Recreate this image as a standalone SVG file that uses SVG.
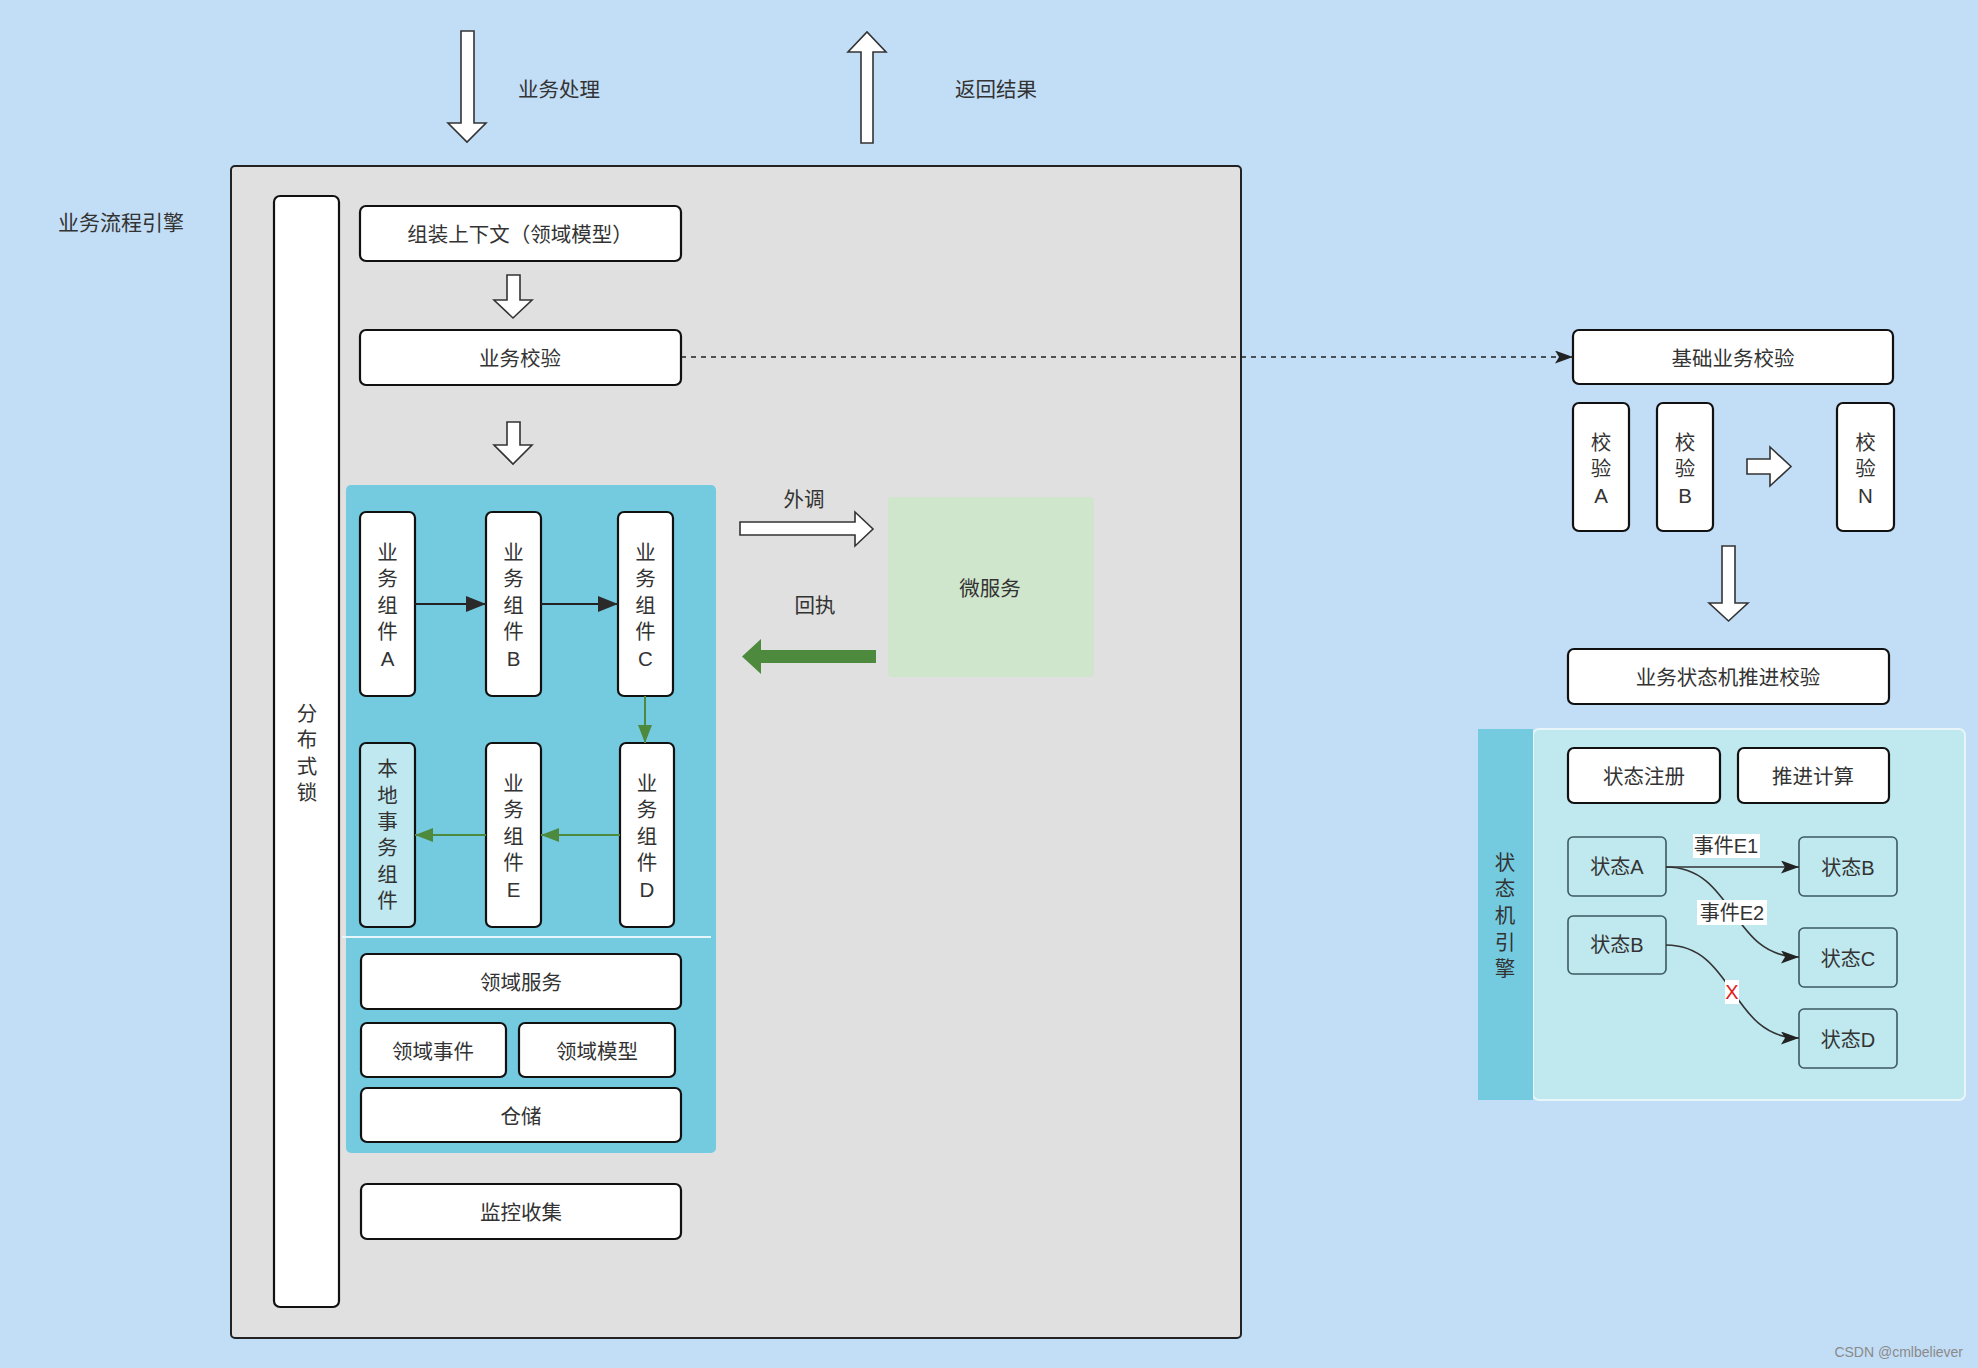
<svg xmlns="http://www.w3.org/2000/svg" width="1978" height="1368" viewBox="0 0 1978 1368">
<defs>
<style>
.t{font-family:"Liberation Sans","Noto Sans CJK SC",sans-serif;font-size:20.5px;fill:#333;text-anchor:middle;dominant-baseline:central}
.ts{font-family:"Liberation Sans","Noto Sans CJK SC",sans-serif;font-size:20px;fill:#333;text-anchor:middle;dominant-baseline:central}
.box{fill:#fff;stroke:#111;stroke-width:2.2}
.st{fill:none;stroke:#3d5a60;stroke-width:1.6}
.hol{fill:#fff;stroke:#333;stroke-width:1.6;stroke-linejoin:miter}
.blk{fill:none;stroke:#222;stroke-width:2}
.grn{fill:none;stroke:#4e8a3e;stroke-width:2}
</style>
<marker id="ab" viewBox="0 0 20 16" refX="20" refY="8" markerWidth="20" markerHeight="16" markerUnits="userSpaceOnUse" orient="auto"><path d="M0,0 L20,8 L0,16 Z" fill="#2a2a2a"/></marker>
<marker id="ag" viewBox="0 0 18 14" refX="18" refY="7" markerWidth="18" markerHeight="14" markerUnits="userSpaceOnUse" orient="auto"><path d="M0,0 L18,7 L0,14 Z" fill="#4e8a3e"/></marker>
<marker id="as" viewBox="0 0 18 13" refX="18" refY="6.5" markerWidth="18" markerHeight="13" markerUnits="userSpaceOnUse" orient="auto"><path d="M0,0 L18,6.5 L0,13 L4,6.5 Z" fill="#222"/></marker>
</defs>
<rect x="0" y="0" width="1978" height="1368" fill="#c2ddf6"/>

<!-- top arrows -->
<g id="in-arrow">
<path class="hol" d="M461,31 L474,31 L474,123 L486,123 L467,142 L448,123 L461,123 Z"/>
<text class="t" x="559" y="89">业务处理</text>
</g>
<g id="out-arrow">
<path class="hol" d="M861,143 L873,143 L873,52 L886,52 L867,32 L848,52 L861,52 Z"/>
<text class="t" x="996" y="89">返回结果</text>
</g>

<!-- engine container -->
<g id="engine">
<rect x="231" y="166" width="1010" height="1172" rx="4" fill="#e0e0e0" stroke="#222" stroke-width="2"/>
<text class="t" x="121" y="222" style="font-size:21px">业务流程引擎</text>
</g>

<g id="lock">
<rect class="box" x="274" y="196" width="65" height="1111" rx="6"/>
<text class="t" x="307" y="713">分</text>
<text class="t" x="307" y="739">布</text>
<text class="t" x="307" y="766">式</text>
<text class="t" x="307" y="792">锁</text>
</g>

<g id="assemble">
<rect class="box" x="360" y="206" width="321" height="55" rx="6"/>
<text class="t" x="520" y="234">组装上下文（领域模型）</text>
</g>
<g id="arrow-1"><path class="hol" d="M507,275 L520,275 L520,300 L532,300 L513,318 L494,300 L507,300 Z"/></g>

<g id="biz-check">
<rect class="box" x="360" y="330" width="321" height="55" rx="6"/>
<text class="t" x="520" y="358">业务校验</text>
</g>
<g id="arrow-2"><path class="hol" d="M507,422 L520,422 L520,445 L532,445 L513,464 L494,445 L507,445 Z"/></g>

<g id="domain-panel">
<rect x="346" y="485" width="370" height="668" rx="5" fill="#74cbe0"/>
<line x1="342" y1="937" x2="711" y2="937" stroke="#e6f6fa" stroke-width="2"/>
</g>

<g id="comp-a">
<rect class="box" x="360" y="512" width="55" height="184" rx="6"/>
<text class="t" x="387.5" y="552">业</text><text class="t" x="387.5" y="578">务</text><text class="t" x="387.5" y="605">组</text><text class="t" x="387.5" y="631">件</text><text class="t" x="387.5" y="658">A</text>
</g>
<g id="comp-b">
<rect class="box" x="486" y="512" width="55" height="184" rx="6"/>
<text class="t" x="513.5" y="552">业</text><text class="t" x="513.5" y="578">务</text><text class="t" x="513.5" y="605">组</text><text class="t" x="513.5" y="631">件</text><text class="t" x="513.5" y="658">B</text>
</g>
<g id="comp-c">
<rect class="box" x="618" y="512" width="55" height="184" rx="6"/>
<text class="t" x="645.5" y="552">业</text><text class="t" x="645.5" y="578">务</text><text class="t" x="645.5" y="605">组</text><text class="t" x="645.5" y="631">件</text><text class="t" x="645.5" y="658">C</text>
</g>
<g id="comp-local">
<rect x="360" y="743" width="55" height="184" rx="6" fill="#c0e8f0" stroke="#111" stroke-width="2.2"/>
<text class="t" x="387.5" y="768">本</text><text class="t" x="387.5" y="795">地</text><text class="t" x="387.5" y="821">事</text><text class="t" x="387.5" y="847">务</text><text class="t" x="387.5" y="874">组</text><text class="t" x="387.5" y="900">件</text>
</g>
<g id="comp-e">
<rect class="box" x="486" y="743" width="55" height="184" rx="6"/>
<text class="t" x="513.5" y="783">业</text><text class="t" x="513.5" y="809">务</text><text class="t" x="513.5" y="836">组</text><text class="t" x="513.5" y="862">件</text><text class="t" x="513.5" y="889">E</text>
</g>
<g id="comp-d">
<rect class="box" x="620" y="743" width="54" height="184" rx="6"/>
<text class="t" x="647" y="783">业</text><text class="t" x="647" y="809">务</text><text class="t" x="647" y="836">组</text><text class="t" x="647" y="862">件</text><text class="t" x="647" y="889">D</text>
</g>

<g id="domain-service">
<rect class="box" x="361" y="954" width="320" height="55" rx="6"/>
<text class="t" x="521" y="982">领域服务</text>
</g>
<g id="domain-event">
<rect class="box" x="361" y="1023" width="145" height="54" rx="6"/>
<text class="t" x="433" y="1051">领域事件</text>
</g>
<g id="domain-model">
<rect class="box" x="519" y="1023" width="156" height="54" rx="6"/>
<text class="t" x="597" y="1051">领域模型</text>
</g>
<g id="repository">
<rect class="box" x="361" y="1088" width="320" height="54" rx="6"/>
<text class="t" x="521" y="1116">仓储</text>
</g>
<g id="monitor">
<rect class="box" x="361" y="1184" width="320" height="55" rx="6"/>
<text class="t" x="521" y="1212">监控收集</text>
</g>

<g id="microservice">
<rect x="888" y="497" width="206" height="180" rx="4" fill="#cfe5cc"/>
<text class="t" x="990" y="588">微服务</text>
</g>

<g id="call-out">
<path class="hol" d="M740,522 L855,522 L855,512 L873,529 L855,546 L855,535 L740,535 Z"/>
<text class="t" x="804" y="499">外调</text>
</g>
<g id="reply">
<path d="M876,650 L761,650 L761,639 L742,656.5 L761,674 L761,663 L876,663 Z" fill="#4e8a3e"/>
<text class="t" x="815" y="605">回执</text>
</g>

<!-- right side -->
<g id="base-check">
<rect class="box" x="1573" y="330" width="320" height="54" rx="6"/>
<text class="t" x="1733" y="358">基础业务校验</text>
</g>
<g id="check-a">
<rect class="box" x="1573" y="403" width="56" height="128" rx="6"/>
<text class="t" x="1601" y="442">校</text><text class="t" x="1601" y="468">验</text><text class="t" x="1601" y="495">A</text>
</g>
<g id="check-b">
<rect class="box" x="1657" y="403" width="56" height="128" rx="6"/>
<text class="t" x="1685" y="442">校</text><text class="t" x="1685" y="468">验</text><text class="t" x="1685" y="495">B</text>
</g>
<g id="check-n">
<rect class="box" x="1837" y="403" width="57" height="128" rx="6"/>
<text class="t" x="1865.5" y="442">校</text><text class="t" x="1865.5" y="468">验</text><text class="t" x="1865.5" y="495">N</text>
</g>
<g id="arrow-checks"><path class="hol" d="M1747,459 L1770,459 L1770,447 L1791,466.5 L1770,486 L1770,474 L1747,474 Z"/></g>
<g id="arrow-3"><path class="hol" d="M1722,546 L1735,546 L1735,603 L1748,603 L1728.5,621 L1709,603 L1722,603 Z"/></g>

<g id="sm-check">
<rect class="box" x="1568" y="649" width="321" height="55" rx="6"/>
<text class="t" x="1728" y="677">业务状态机推进校验</text>
</g>

<g id="sm-engine">
<rect x="1533" y="729" width="432" height="371" rx="6" fill="#bfe8ef" stroke="#e8f6f9" stroke-width="2"/>
<rect x="1478" y="729" width="55" height="371" fill="#74cbe0"/>
<text class="t" x="1505" y="862">状</text><text class="t" x="1505" y="888">态</text><text class="t" x="1505" y="915">机</text><text class="t" x="1505" y="942">引</text><text class="t" x="1505" y="968">擎</text>
</g>
<g id="sm-register">
<rect class="box" x="1568" y="748" width="152" height="55" rx="6"/>
<text class="t" x="1644" y="776">状态注册</text>
</g>
<g id="sm-compute">
<rect class="box" x="1738" y="748" width="151" height="55" rx="6"/>
<text class="t" x="1813" y="776">推进计算</text>
</g>
<g id="state-a"><rect class="st" x="1568" y="837" width="98" height="59" rx="5"/><text class="ts" x="1617" y="867">状态A</text></g>
<g id="state-b1"><rect class="st" x="1568" y="916" width="98" height="58" rx="5"/><text class="ts" x="1617" y="945">状态B</text></g>
<g id="state-b2"><rect class="st" x="1799" y="837" width="98" height="59" rx="5"/><text class="ts" x="1848" y="868">状态B</text></g>
<g id="state-c"><rect class="st" x="1799" y="928" width="98" height="59" rx="5"/><text class="ts" x="1848" y="959">状态C</text></g>
<g id="state-d"><rect class="st" x="1799" y="1009" width="98" height="59" rx="5"/><text class="ts" x="1848" y="1040">状态D</text></g>

<g id="connectors">
<line x1="681" y1="357" x2="1573" y2="357" stroke="#222" stroke-width="1.5" stroke-dasharray="5,5" marker-end="url(#as)"/>
<line class="blk" x1="415" y1="604" x2="486" y2="604" marker-end="url(#ab)"/>
<line class="blk" x1="541" y1="604" x2="618" y2="604" marker-end="url(#ab)"/>
<line class="grn" x1="645" y1="696" x2="645" y2="743" marker-end="url(#ag)"/>
<line class="grn" x1="620" y1="835" x2="541" y2="835" marker-end="url(#ag)"/>
<line class="grn" x1="486" y1="835" x2="415" y2="835" marker-end="url(#ag)"/>
<line x1="1666" y1="867" x2="1799" y2="867" stroke="#333" stroke-width="1.6" marker-end="url(#as)"/>
<path d="M1666,867 C1735,867 1730,957 1799,957" fill="none" stroke="#333" stroke-width="1.6" marker-end="url(#as)"/>
<path d="M1666,945 C1735,945 1730,1038 1799,1038" fill="none" stroke="#333" stroke-width="1.6" marker-end="url(#as)"/>
<rect x="1693" y="834" width="67" height="24" fill="#fff"/>
<text class="ts" x="1726" y="846">事件E1</text>
<rect x="1697" y="900" width="70" height="25" fill="#fff"/>
<text class="ts" x="1732" y="913">事件E2</text>
<rect x="1725" y="980" width="14" height="24" fill="#fff"/>
<text class="ts" x="1732" y="992" style="fill:#e02020">X</text>
</g>

<text x="1963" y="1352" font-family="Liberation Sans, Arial, sans-serif" font-size="14" fill="#8a8a8a" text-anchor="end" dominant-baseline="central">CSDN @cmlbeliever</text>
</svg>
